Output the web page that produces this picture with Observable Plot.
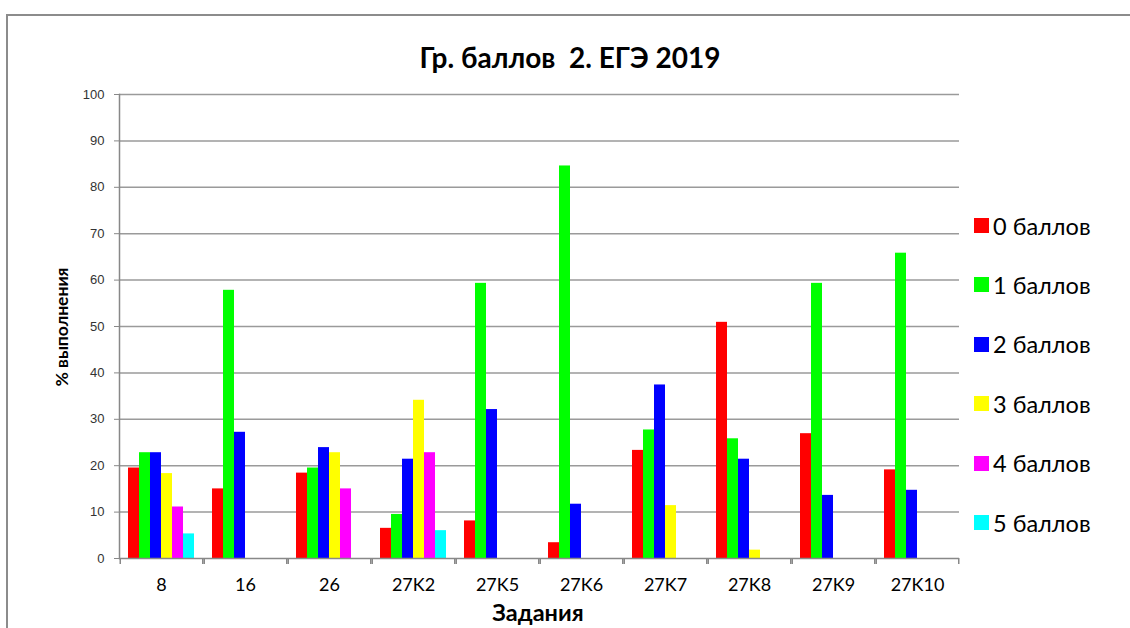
<!DOCTYPE html>
<html><head><meta charset="utf-8">
<script src="https://cdn.jsdelivr.net/npm/d3@7"></script>
<script src="https://cdn.jsdelivr.net/npm/@observablehq/plot@0.6"></script>
<style>
body{margin:0;background:#fff;}
#wrap{position:relative;width:1130px;height:628px;overflow:hidden;font-family:Lato,"Open Sans",sans-serif;color:#000;}
#border{position:absolute;left:6px;top:14px;width:1200px;height:700px;border-top:2px solid #8c8c8c;border-left:2px solid #8c8c8c;}
#chart{position:absolute;left:0;top:0;}
#title{position:absolute;left:0;width:1140px;top:57px;transform:translateY(-50%);text-align:center;font-weight:bold;font-size:28px;white-space:pre;}
#ylab{position:absolute;left:61px;top:327px;transform:translate(-50%,-50%) rotate(-90deg);font-weight:bold;font-size:17.5px;white-space:nowrap;}
#xlab{position:absolute;left:538px;top:613px;transform:translate(-50%,-50%);font-weight:bold;font-size:23.5px;line-height:1;white-space:nowrap;}
#legend{position:absolute;left:974px;top:0;}
.li{position:absolute;left:0;display:flex;align-items:center;white-space:nowrap;font-size:23.5px;transform:translateY(-50%);}
.sw{width:15px;height:15px;margin-right:4px;}
</style>
</head><body>
<div id="wrap">
<div id="border"></div>
<div id="chart"></div>
<div id="title"></div>
<div id="ylab"></div>
<div id="xlab"></div>
<div id="legend"></div>
</div>
<script>
const titleText = "Гр. баллов  2. ЕГЭ 2019";
const yLabel = "% выполнения";
const xLabel = "Задания";
const tasks = ["8","16","26","27K2","27K5","27K6","27K7","27K8","27K9","27K10"];
const seriesNames = ["0 баллов","1 баллов","2 баллов","3 баллов","4 баллов","5 баллов"];
const seriesColors = ["#ff0000","#00ff00","#0000ff","#ffff00","#ff00ff","#00ffff"];
const score0 = [19.5, 15.0, 18.4, 6.5, 8.1, 3.4, 23.3, 50.9, 26.9, 19.1];
const score1 = [22.8, 57.8, 19.5, 9.5, 59.3, 84.6, 27.7, 25.8, 59.3, 65.8];
const score2 = [22.8, 27.2, 23.9, 21.4, 32.1, 11.7, 37.4, 21.4, 13.6, 14.7];
const score3 = [18.3, null, 22.8, 34.1, null, null, 11.4, 1.8, null, null];
const score4 = [11.1, null, 15.0, 22.8, null, null, null, null, null, null];
const score5 = [5.3, null, null, 6.0, null, null, null, null, null, null];
const yTicks = [0,10,20,30,40,50,60,70,80,90,100];

const allScores = [score0, score1, score2, score3, score4, score5];
const data = [];
tasks.forEach((t, i) => allScores.forEach((vals, j) => {
  if (vals[i] != null) data.push({task: t, series: seriesNames[j], value: vals[i]});
}));

const W = 1130, H = 628, mL = 118, mR = 171, mT = 94, mB = 70;
const po = 0.715;
const facetW = (W - mL - mR) / tasks.length;
const step = facetW / (seriesNames.length + 2 * po);
const edge = (po + 0.5) * step;

const chart = Plot.plot({
  width: W, height: H, marginLeft: mL, marginRight: mR, marginTop: mT, marginBottom: mB,
  style: {fontFamily: "Lato", background: "transparent"},
  fx: {domain: tasks, padding: 0, label: null},
  x: {domain: seriesNames, paddingInner: 0, paddingOuter: po, axis: null},
  y: {domain: [0, 100], label: null},
  color: {domain: seriesNames, range: seriesColors},
  marks: [
    Plot.gridY(yTicks.filter(d => d > 0), {stroke: "#9a9a9a", strokeOpacity: 1, strokeWidth: 1.5}),
    Plot.axisY(yTicks, {tickSize: 5, tickPadding: 10, fontSize: 13, fontFamily: "Liberation Sans", fill: "#333", stroke: "#888", label: null}),
    Plot.barY(data, {fx: "task", x: "series", y: "value", fill: "series"}),
    Plot.ruleY([0], {stroke: "#888", strokeWidth: 1.5}),
    Plot.frame({anchor: "left", facetAnchor: "left", stroke: "#888", strokeWidth: 1.5}),
    Plot.ruleX(tasks, {fx: d => d, x: () => seriesNames[0], y1: 0, y2: 0, insetBottom: -6, dx: -edge, stroke: "#888", strokeWidth: 1.5}),
    Plot.ruleX(tasks, {fx: d => d, x: () => seriesNames[seriesNames.length - 1], y1: 0, y2: 0, insetBottom: -6, dx: edge, stroke: "#888", strokeWidth: 1.5}),
    Plot.axisFx({anchor: "bottom", tickSize: 0, tickPadding: 20, fontSize: 18, fill: "#000", label: null})
  ]
});
document.getElementById("chart").appendChild(chart);
document.getElementById("title").textContent = titleText;
document.getElementById("ylab").textContent = yLabel;
document.getElementById("xlab").textContent = xLabel;
const legendTop = 225.5, legendGap = 59.4;
const leg = document.getElementById("legend");
seriesNames.forEach((s, j) => {
  const item = document.createElement("div");
  item.className = "li";
  item.style.top = (legendTop + j * legendGap) + "px";
  const sw = document.createElement("div");
  sw.className = "sw";
  sw.style.background = seriesColors[j];
  const tx = document.createElement("span");
  tx.textContent = s;
  item.appendChild(sw); item.appendChild(tx);
  leg.appendChild(item);
});
</script>
</body></html>
